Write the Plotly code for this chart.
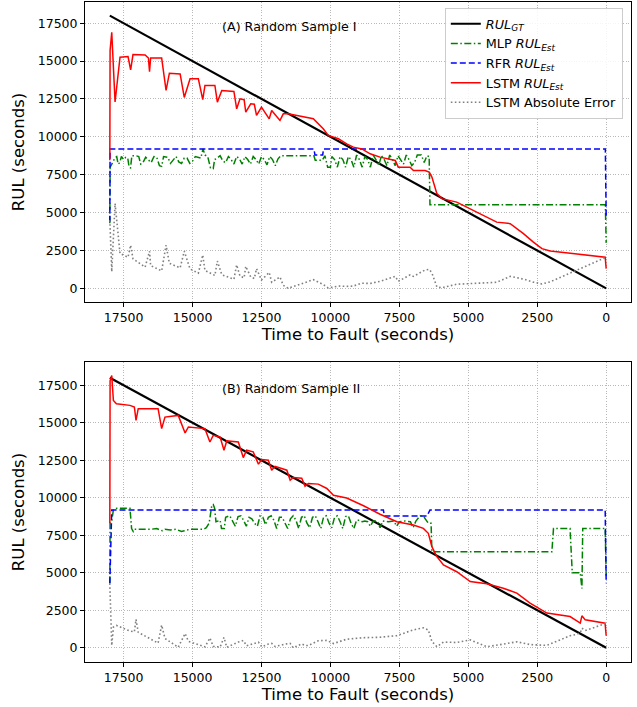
import plotly.graph_objects as go

# ---------------- Panel A data ----------------
a_gt_x = [18000, 0]
a_gt_y = [18000, 0]

a_lstm_x = [18000, 17990, 17930, 17810, 17630, 17340, 17245, 17160, 16720, 16600, 16560, 16520, 16120, 15960, 15840,
            15450, 15300, 15090, 14790, 14630, 14550, 14190, 14100, 13940, 13500, 13400, 13280, 13130, 13070, 12890,
            12760, 12680, 12500, 12220, 12130, 11830, 11710, 11530, 10620, 10260, 10080, 9710, 9410, 9170, 8860,
            8560, 8200, 7650, 7540, 7110, 6990, 6570, 6420, 6320, 6140, 5960, 5420, 4930, 4450, 3970, 3480, 3000,
            2640, 2330, 2030, 36, 0]
a_lstm_y = [8450, 15700, 16900, 12300, 15260, 15300, 14420, 15430, 15400, 15200, 14300, 15200, 15200, 13060, 14200,
            14150, 12600, 13830, 13830, 12450, 13390, 13390, 12290, 13060, 13000, 11850, 12510, 12450, 11630, 12180,
            12150, 11410, 11960, 11190, 11740, 11080, 11520, 11520, 11190, 10530, 10090, 9870, 9540, 9320, 9200,
            8880, 8660, 8440, 8000, 8000, 7780, 7780, 7670, 7340, 6250, 5920, 5690, 5260, 4820, 4370, 4270, 3610,
            3050, 2620, 2460, 2060, 1300]

a_err_x = [18000, 17930, 17810, 17630, 17340, 17245, 17160, 16720, 16560, 16520, 16120, 15960, 15840, 15450, 15300,
           15090, 14790, 14630, 14550, 14190, 14100, 13940, 13500, 13400, 13280, 13130, 13070, 12890, 12760, 12680,
           12500, 12220, 12130, 11830, 11710, 11530, 10620, 10260, 10080, 9710, 9410, 9170, 8860, 8560, 8200, 7650,
           7540, 7110, 6990, 6570, 6420, 6320, 6140, 5960, 5420, 4930, 4450, 3970, 3480, 3000, 2640, 2330, 2030, 0]
a_err_y = [4500, 1100, 5600, 2300, 2050, 2850, 1950, 1400, 2450, 1500, 1150, 2850, 1650, 1350, 2450,
           1280, 1000, 2200, 1180, 850, 1800, 900, 600, 1550, 800, 700, 1450, 750, 650, 1300,
           550, 1050, 400, 750, 200, 0, 570, 250, 30, 150, 130, 150, 340, 320, 460, 790,
           460, 890, 790, 1210, 1250, 1020, 100, 40, 270, 330, 370, 400, 790, 610, 410, 290, 430, 2050]

a_mlp_x = [18000, 17990, 17900, 17820, 17750, 17700, 17640, 17580, 17500, 17420, 17350, 17300, 17250, 17200, 17050,
           16950, 16880, 16800, 16700, 16600, 16500, 16400, 16300, 16200, 16120, 16050, 15900, 15800, 15700, 15600,
           15500, 15400, 15300, 15200, 15100, 15000, 14900, 14800, 14700, 14620, 14550, 14450, 14400, 14350, 14250,
           14200, 14100, 14000, 13900, 13800, 13700, 13600, 13500, 13400, 13300, 13200, 13100, 13000, 12900, 12800,
           12700, 12600, 12500, 12400, 12300, 12200, 12100, 12000, 11900, 11800, 10600, 10550, 10300, 10200, 10100,
           10000, 9950, 9850, 9750, 9650, 9550, 9450, 9350, 9250, 9150, 9050, 8950, 8850, 8750, 8650, 8550, 8450,
           8350, 8250, 8150, 8050, 7950, 7850, 7750, 7650, 7550, 7450, 7350, 7250, 7150, 7050, 6950, 6850, 6700,
           6600, 6500, 6420, 6390, 30, 0]
a_mlp_y = [4300, 8000, 8300, 8600, 8700, 8200, 8300, 8700, 8500, 8650, 8600, 8000, 7950, 8750, 8750,
           8700, 8200, 8300, 8650, 8500, 8300, 8700, 8650, 8100, 8050, 8700, 8650, 8250, 8450, 8700,
           8350, 8250, 8600, 8600, 8250, 8400, 8700, 8650, 8600, 9200, 8800, 8700, 8300, 7950, 7900,
           8500, 8600, 8750, 8400, 8300, 8700, 8500, 8200, 8700, 8550, 8200, 8700, 8500, 8200, 8700,
           8500, 8200, 8700, 8500, 8150, 8700, 8500, 8100, 8550, 8750, 8750, 8450, 8450, 8750, 8000,
           8000, 8700, 8500, 8000, 8700, 8500, 8000, 8700, 8500, 8000, 8800, 8500, 8000, 8700, 8500, 8000, 8800,
           8500, 8100, 8750, 8500, 8100, 8800, 8500, 8100, 8750, 8500, 8200, 8800, 8500, 8100, 8300, 8800, 8800,
           8300, 8750, 8700, 5520, 5520, 3000]

a_rfr_x = [18000, 17990, 10600, 10560, 10280, 10250, 30, 0]
a_rfr_y = [4400, 9200, 9200, 8800, 8800, 9200, 9200, 4700]

# ---------------- Panel B data ----------------
b_gt_x = [18000, 0]
b_gt_y = [18000, 0]

b_lstm_x = [18000, 17990, 17930, 17870, 17760, 17270, 17110, 17050, 16970, 16250, 16120, 16000, 15520, 15270, 15150,
            14550, 14370, 14250, 14000, 13860, 13760, 13340, 13160, 13040, 12800, 12610, 12490, 12250, 12130, 12010,
            11580, 11460, 11350, 11040, 10920, 10800, 10440, 10130, 9890, 9410, 8800, 8200, 7590, 6990, 6630, 6450,
            6320, 6140, 5900, 5420, 4930, 4330, 3730, 3240, 2760, 2150, 1310, 1060, 940, 880, 760, 40, 0]
b_lstm_y = [8300, 17800, 18150, 16490, 16270, 16160, 16050, 15160, 15940, 15940, 14610, 15380, 15490, 14320, 14720,
            14610, 13720, 14160, 14050, 13170, 13790, 13720, 12680, 13170, 13060, 12240, 12550, 12500, 11840, 12100,
            11840, 11170, 11350, 11300, 10770, 10950, 10910, 10620, 10170, 9980, 9470, 8900, 8400, 8180, 7960, 7630,
            6740, 6070, 5520, 5070, 4410, 4260, 3970, 3640, 2970, 2310, 2080, 1750, 1640, 2130, 1860, 1640, 800]

b_err_x = [18000, 17930, 17870, 17760, 17270, 17110, 17050, 16970, 16250, 16120, 16000, 15520, 15270, 15150, 14550,
           14370, 14250, 14000, 13860, 13760, 13340, 13160, 13040, 12800, 12610, 12490, 12250, 12130, 12010, 11580,
           11460, 11350, 11040, 10920, 10800, 10440, 10130, 9890, 9410, 8800, 8200, 7590, 6990, 6630, 6450, 6320,
           6140, 5900, 5420, 4930, 4330, 3730, 3240, 2760, 2150, 1310, 1060, 940, 880, 760, 40, 0]
b_err_y = [4300, 150, 1380, 1490, 1110, 1060, 1890, 1030, 310, 1510, 620, 30, 950, 430, 60,
           650, 90, 50, 690, 30, 380, 480, 130, 260, 370, 60, 250, 290, 90, 260,
           290, 0, 260, 150, 150, 470, 490, 280, 570, 670, 700, 810, 1190, 1330, 1180, 420,
           70, 380, 350, 520, 70, 240, 400, 210, 160, 800, 900, 1000, 1300, 1150, 1600, 1500]

b_mlp_x = [18000, 17990, 17930, 17870, 17750, 17270, 17210, 17150, 17100, 16800, 16700, 16500, 16300, 16100, 16000,
           15800, 15600, 15400, 15300, 15100, 14800, 14600, 14500, 14400, 14300, 14250, 14200, 14150, 14000, 13950,
           13850, 13800, 13650, 13550, 13450, 13350, 13250, 13150, 13050, 12950, 12850, 12750, 12650, 12550, 12450,
           12350, 12250, 12150, 12050, 11950, 11850, 11750, 11650, 11550, 11450, 11350, 11250, 11150, 11050, 10950,
           10850, 10750, 10650, 10550, 10450, 10350, 10250, 10150, 10050, 9950, 9850, 9750, 9650, 9550, 9450, 9350,
           9250, 9150, 9050, 8950, 8850, 8750, 8650, 8550, 8450, 8300, 8200, 8100, 7900, 7700, 7600, 7500, 7300,
           7100, 7000, 6900, 6750, 6600, 6450, 6350, 6320, 1970, 1910, 1310, 1230, 940, 880, 850, 36, 0]
b_mlp_y = [4300, 8400, 8500, 9180, 9300, 9300, 7950, 7750, 7900, 7900, 7850, 7900, 7950, 7800, 7900,
           7850, 7900, 7750, 7800, 7900, 7900, 7900, 8000, 8300, 9500, 9550, 9300, 8400, 8500, 7950,
           7950, 8700, 8800, 8400, 8100, 8750, 8800, 8500, 8100, 8700, 8600, 8300, 8100, 8800, 8700,
           8200, 8700, 8800, 8500, 7950, 8700, 8700, 8300, 7950, 8600, 8800, 8500, 7950, 8700, 8800,
           8300, 8000, 8700, 8800, 8400, 7950, 8700, 8800, 8300, 8000, 8700, 8800, 8400, 7950, 8750, 8800,
           8300, 7950, 8500, 8500, 8400, 8450, 8400, 8100, 8450, 8450, 8000, 8450, 8400, 8450, 8100, 8400, 8450,
           8400, 8000, 8450, 8800, 8700, 8300, 8300, 6400, 6400, 7950, 7950, 5000, 5000, 3950, 7950, 7950, 4800]

b_rfr_x = [18000, 17930, 8080, 8040, 6500, 6390, 36, 0]
b_rfr_y = [4300, 9180, 9180, 8780, 8780, 9180, 9180, 4300]

# ---------------- Labels ----------------
x_ticks = [0, 2500, 5000, 7500, 10000, 12500, 15000, 17500]
y_ticks = [0, 2500, 5000, 7500, 10000, 12500, 15000, 17500]
names = ["<i>RUL</i><sub><i>GT</i></sub>", "MLP <i>RUL</i><sub><i>Est</i></sub>",
         "RFR <i>RUL</i><sub><i>Est</i></sub>", "LSTM <i>RUL</i><sub><i>Est</i></sub>", "LSTM Absolute Error"]
panel_titles = ["(A) Random Sample I", "(B) Random Sample II"]

FONT = "DejaVu Sans"
styles = [
    dict(color="#000000", width=2.2, dash="solid"),
    dict(color="#008000", width=1.5, dash="7px,2.5px,1.5px,2.5px"),
    dict(color="#0000ff", width=1.5, dash="6px,3px"),
    dict(color="#ff0000", width=1.5, dash="solid"),
    dict(color="#808080", width=1.6, dash="1.6px,2.4px"),
]

fig = go.Figure()
panels = [
    ("x", "y", [(a_gt_x, a_gt_y), (a_mlp_x, a_mlp_y), (a_rfr_x, a_rfr_y), (a_lstm_x, a_lstm_y), (a_err_x, a_err_y)], True),
    ("x2", "y2", [(b_gt_x, b_gt_y), (b_mlp_x, b_mlp_y), (b_rfr_x, b_rfr_y), (b_lstm_x, b_lstm_y), (b_err_x, b_err_y)], False),
]
for xa, ya, series, show in panels:
    for (sx, sy), nm, st in zip(series, names, styles):
        fig.add_trace(go.Scatter(x=sx, y=sy, mode="lines", name=nm, line=st,
                                 xaxis=xa, yaxis=ya, showlegend=show))

axis_common = dict(showgrid=True, gridcolor="#b8b8b8", griddash="1px,1.6px", gridwidth=0.8,
                   showline=True, linecolor="#000000", linewidth=1, mirror=True,
                   ticks="outside", ticklen=4, tickcolor="#000000", zeroline=False,
                   automargin=False,
                   tickfont=dict(family=FONT, size=12.5, color="#000000"))

xt = dict(text="Time to Fault (seconds)", font=dict(family=FONT, size=16.5, color="#000000"), standoff=3)
yt = dict(text="RUL (seconds)", font=dict(family=FONT, size=16.5, color="#000000"), standoff=8)

fig.update_layout(
    width=637, height=707,
    margin=dict(l=85, r=6, t=2, b=45, autoexpand=False),
    paper_bgcolor="white", plot_bgcolor="white",
    font=dict(family=FONT, color="#000000"),
    xaxis=dict(domain=[0, 1], anchor="y", range=[18900, -900], tickvals=x_ticks,
               ticktext=[str(v) for v in x_ticks], title=xt, **axis_common),
    yaxis=dict(domain=[0.5455, 1], anchor="x", range=[-900, 18900], tickvals=y_ticks,
               ticktext=[str(v) for v in y_ticks], title=yt, **axis_common),
    xaxis2=dict(domain=[0, 1], anchor="y2", range=[18900, -900], tickvals=x_ticks,
                ticktext=[str(v) for v in x_ticks], title=xt, **axis_common),
    yaxis2=dict(domain=[0, 0.4545], anchor="x2", range=[-950, 19050], tickvals=y_ticks,
                ticktext=[str(v) for v in y_ticks], title=yt, **axis_common),
    legend=dict(x=0.985, y=0.991, xanchor="right", yanchor="top",
                bgcolor="rgba(255,255,255,0.85)", bordercolor="#cccccc", borderwidth=1,
                font=dict(family=FONT, size=12.8, color="#000000"), tracegroupgap=0),
    showlegend=True,
)

fig.add_annotation(x=14000, y=17300, xref="x", yref="y", text=panel_titles[0], showarrow=False,
                   xanchor="left", yanchor="middle", font=dict(family=FONT, size=12.7, color="#000000"))
fig.add_annotation(x=14000, y=17300, xref="x2", yref="y2", text=panel_titles[1], showarrow=False,
                   xanchor="left", yanchor="middle", font=dict(family=FONT, size=12.7, color="#000000"))

fig.write_html("out.html", config={"displayModeBar": False},
               post_script="document.body.style.margin='0';document.body.style.overflow='hidden';")
